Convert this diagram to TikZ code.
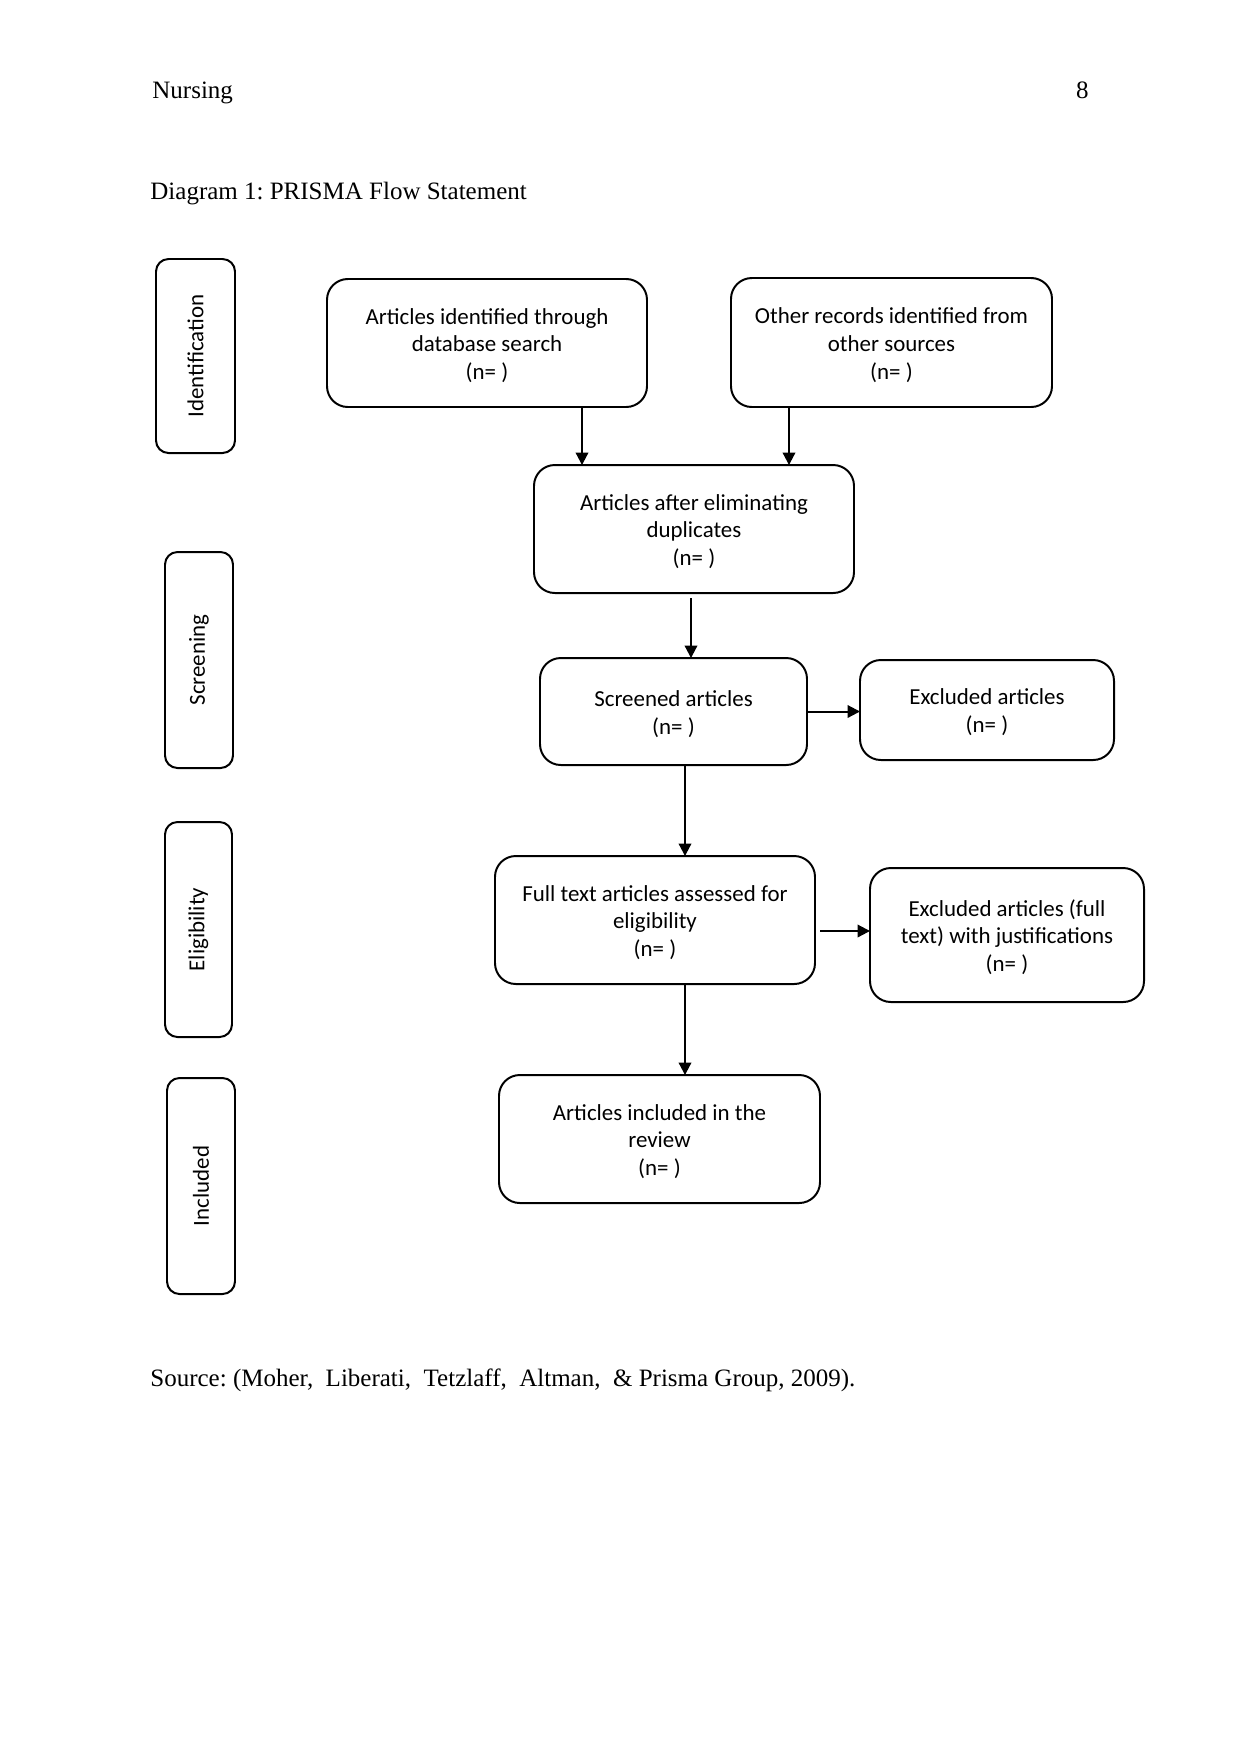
\documentclass[tikz,border=0pt]{standalone}
\usepackage{fontspec}
\setmainfont{Liberation Serif}
\newfontfamily\boxfont{Carlito}
\usetikzlibrary{arrows.meta}
\frenchspacing
\newcommand\pxu{0.48pt}
\newcommand\bxt[1]{\raisebox{-1.6pt}[\height][\depth]{\begin{tabular}{@{}c@{}}#1\end{tabular}}}
\tikzset{
  box/.style={draw, line width=0.95pt, rounded corners=10pt, align=center,
    font=\boxfont\fontsize{11pt}{13.4pt}\selectfont, inner sep=2pt},
  side/.style={draw, line width=0.95pt, rounded corners=6pt, align=center,
    font=\boxfont\fontsize{11pt}{13.4pt}\selectfont, rotate=90, inner sep=2pt},
  arr/.style={line width=0.95pt, -{Triangle[length=6pt,width=6pt]}},
  plain/.style={inner sep=0pt, font=\fontsize{12pt}{14.4pt}\selectfont}
}
\begin{document}
\begin{tikzpicture}[x=0.48pt, y=-0.48pt]
\useasboundingbox (0,0) rectangle (1241,1754);

% header texts
\node[plain, anchor=base west] (hdr) at (152,98) {Nursing};
\node[plain, anchor=base east] (pg) at (1089,98) {8};
\node[plain, anchor=base west] (cap) at (150,199) {Diagram 1: PRISMA Flow Statement};
\node[plain, anchor=base west] (src) at (150,1386) {Source: (Moher,\ \ Liberati,\ \ Tetzlaff,\ \ Altman,\ \ \& Prisma Group, 2009).};

% side phase labels
\node[side, minimum width=194*\pxu, minimum height=79*\pxu] (sid) at (195.5,356) {Identification};
\node[side, minimum width=216*\pxu, minimum height=68*\pxu] (sscr) at (199,660) {Screening};
\node[side, minimum width=215*\pxu, minimum height=67*\pxu] (seli) at (198.5,929.5) {Eligibility};
\node[side, minimum width=216*\pxu, minimum height=68*\pxu] (sinc) at (201,1186) {Included};

% flow boxes
\node[box, minimum width=320*\pxu, minimum height=128*\pxu] (b1) at (487,343)
  {\bxt{Articles identified through\\database search\\(n= )}};
\node[box, minimum width=321*\pxu, minimum height=129*\pxu] (b2) at (891.5,342.5)
  {\bxt{Other records identified from\\other sources\\(n= )}};
\node[box, minimum width=320*\pxu, minimum height=128*\pxu] (b3) at (694,529)
  {\bxt{Articles after eliminating\\duplicates\\(n= )}};
\node[box, minimum width=267*\pxu, minimum height=107*\pxu] (scr) at (673.5,711.5)
  {\bxt{Screened articles\\(n= )}};
\node[box, minimum width=254*\pxu, minimum height=100*\pxu] (exc) at (987,710)
  {\bxt{Excluded articles\\(n= )}};
\node[box, minimum width=320*\pxu, minimum height=128*\pxu] (full) at (655,920)
  {\bxt{Full text articles assessed for\\eligibility\\(n= )}};
\node[box, minimum width=274*\pxu, minimum height=134*\pxu] (excf) at (1007,935)
  {\bxt{Excluded articles (full\\text) with justifications\\(n= )}};
\node[box, minimum width=321*\pxu, minimum height=128*\pxu] (incl) at (659.5,1139)
  {\bxt{Articles included in the\\review\\(n= )}};

% connectors
\draw[arr] ([xshift=45.6pt]b1.south) -- ([xshift=45.6pt,yshift=-0.5pt]b1.south |- b3.north);
\draw[arr] ([xshift=-49.2pt]b2.south) -- ([xshift=-49.2pt,yshift=-0.5pt]b2.south |- b3.north);
\draw[arr] ([xshift=-1.44pt,yshift=-2pt]b3.south) -- ([xshift=-1.44pt,yshift=-0.5pt]b3.south |- scr.north);
\draw[arr] ([xshift=5.52pt]scr.south) -- ([xshift=5.52pt,yshift=-0.5pt]scr.south |- full.north);
\draw[arr] ([xshift=14.4pt]full.south) -- ([xshift=14.4pt,yshift=-0.5pt]full.south |- incl.north);
\draw[arr] (scr.east) -- ([xshift=0.5pt]scr.east -| exc.west);
\draw[arr] ([xshift=2pt,yshift=-5.28pt]full.east) -- ([xshift=0.5pt,yshift=-5.28pt]full.east -| excf.west);
\end{tikzpicture}
\end{document}
